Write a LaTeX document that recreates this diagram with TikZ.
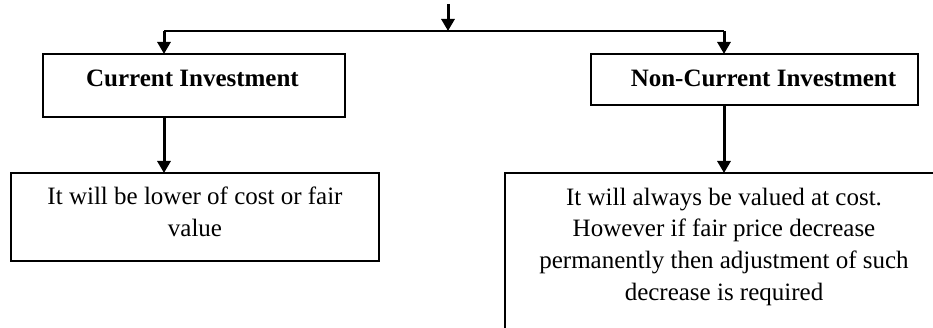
\documentclass[tikz,border=0pt]{standalone}
\usepackage{fontspec}
\setmainfont{Liberation Serif}
\usetikzlibrary{arrows.meta}

\tikzset{
  box/.style={draw=black, line width=2.3pt, rectangle, inner sep=0pt, outer sep=0pt, fill=none},
  line/.style={draw=black, line width=2.5pt},
  arr/.style={draw=black, line width=3pt, -{Triangle[length=12pt,width=13pt]}},
  head/.style={anchor=base, inner sep=0pt, font=\fontsize{25}{32}\selectfont\bfseries},
  body/.style={anchor=base, inner sep=0pt, font=\fontsize{25}{32}\selectfont},
}

\begin{document}
\begin{tikzpicture}[x=1pt, y=-1pt]
  \useasboundingbox (0,0) rectangle (933,328);
  \fill[white] (0,0) rectangle (933,328);
  \clip (0,0) rectangle (933,328);

  % boxes
  \node[box, minimum width=302pt, minimum height=63pt] (ci)  at (194,85.5) {};
  \node[box, minimum width=327pt, minimum height=51pt] (nci) at (754.5,79.5) {};
  \node[box, minimum width=368pt, minimum height=88pt] (cil) at (195,217) {};
  \node[box, minimum width=438pt, minimum height=177pt] (ncl) at (724,261.5) {};

  % headings
  \node[head] (tci)  at (192.5,87) {Current Investment};
  \node[head] (tnci) at (763.5,87) {Non-Current Investment};

  % descriptions
  \node[body] (la) at (195,205) {It will be lower of cost or fair};
  \node[body] (lb) at (195,237) {value};
  \node[body] (ra) at (724,206) {It will always be valued at cost.};
  \node[body] (rb) at (724,237) {However if fair price decrease};
  \node[body] (rc) at (724,269) {permanently then adjustment of such};
  \node[body] (rd) at (724,301) {decrease is required};

  % junction points
  \coordinate (src) at (448,4);
  \coordinate (jm)  at (448,31);
  \coordinate (jl)  at (164,31);
  \coordinate (jr)  at (724,31);

  % connectors
  \draw[arr] (src) -- (jm);
  \draw[line] (jl) -- (jr);
  \draw[arr] (jl) -- (jl |- ci.north);
  \draw[arr] (jr) -- (jr |- nci.north);
  \draw[arr] (jl |- ci.south) -- (jl |- cil.north);
  \draw[arr] (jr |- nci.south) -- (jr |- ncl.north);
\end{tikzpicture}
\end{document}
